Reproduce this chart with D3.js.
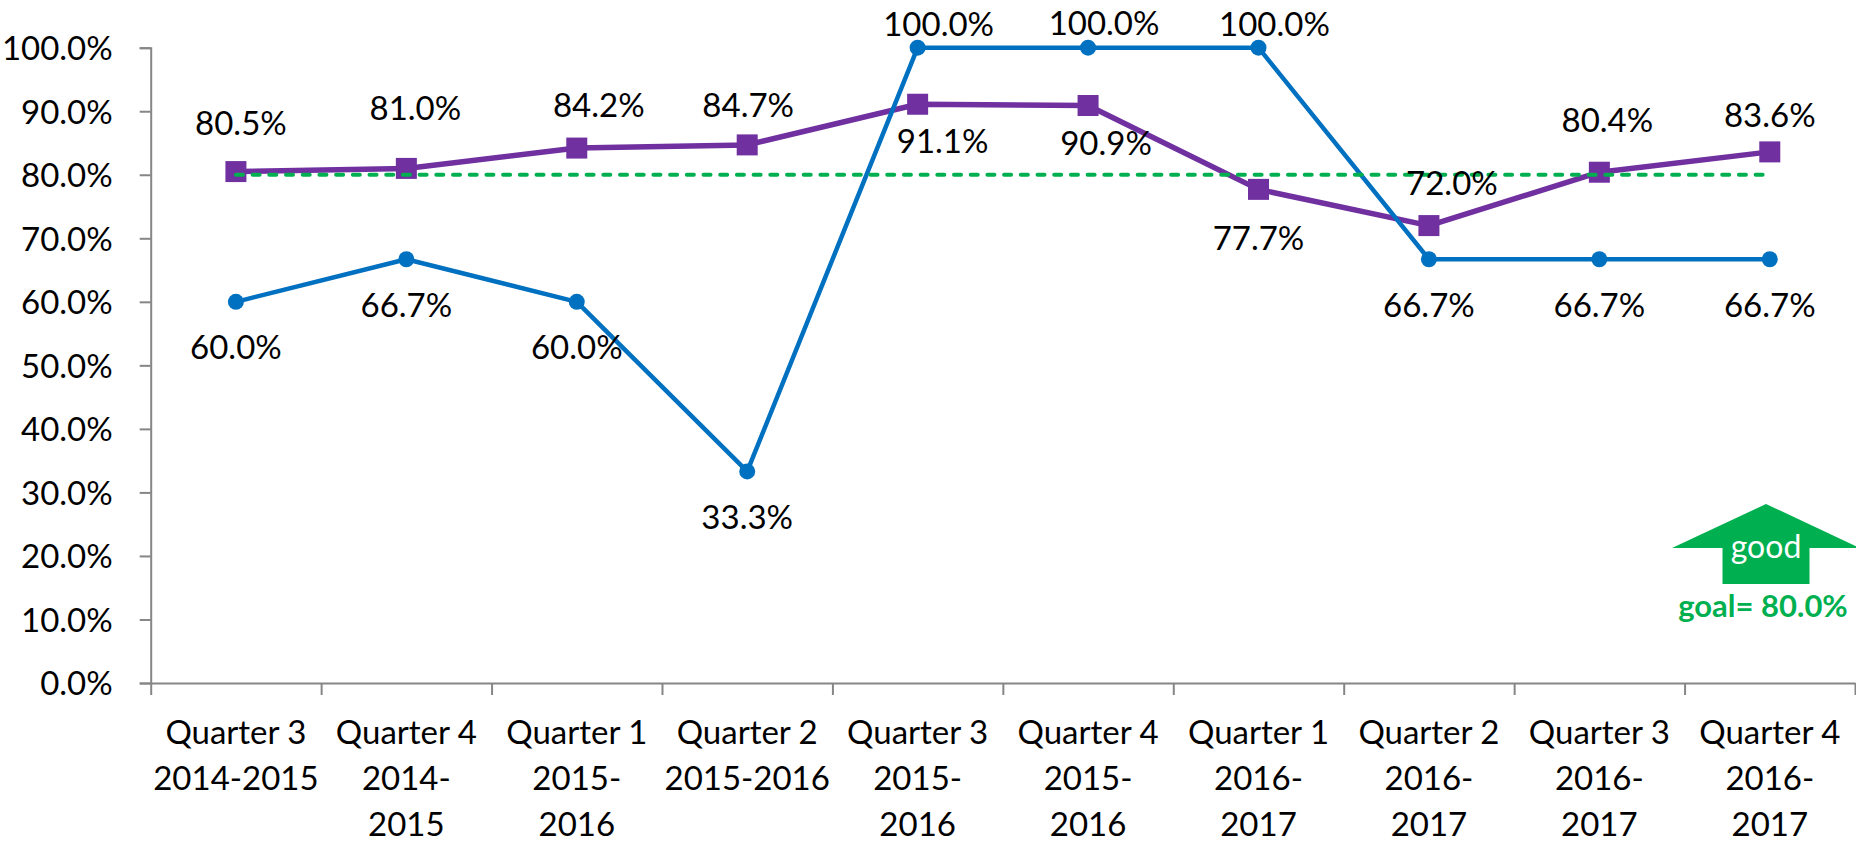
<!DOCTYPE html>
<html>
<head>
<meta charset="utf-8">
<script src="https://cdn.jsdelivr.net/npm/d3@7"></script>
<style>
  html, body { margin: 0; padding: 0; background: #ffffff; }
  svg { display: block; }
  text { font-family: Lato, "Open Sans", sans-serif; }
</style>
</head>
<body>
<svg id="chart" width="1856" height="842"></svg>
<script>
// ---------- data ----------
const categories = [
  "Quarter 3\n2014-2015",
  "Quarter 4\n2014-\n2015",
  "Quarter 1\n2015-\n2016",
  "Quarter 2\n2015-2016",
  "Quarter 3\n2015-\n2016",
  "Quarter 4\n2015-\n2016",
  "Quarter 1\n2016-\n2017",
  "Quarter 2\n2016-\n2017",
  "Quarter 3\n2016-\n2017",
  "Quarter 4\n2016-\n2017"
];
const blueValues   = [0.600, 0.667, 0.600, 0.333, 1.000, 1.000, 1.000, 0.667, 0.667, 0.667];
const purpleValues = [0.805, 0.810, 0.842, 0.847, 0.911, 0.909, 0.777, 0.720, 0.804, 0.836];
const goalValue = 0.80;
const yTickValues = [0, 0.1, 0.2, 0.3, 0.4, 0.5, 0.6, 0.7, 0.8, 0.9, 1.0];
const goalLabel = "goal= 80.0%";
const arrowLabel = "good";

// ---------- label placement (offsets from each point, px) ----------
const purpleLabelDx = [5, 9, 22, 1, 25, 18, 0, 23, 8, 0];
const purpleLabelDy = [-48, -60, -43, -40, 37, 38, 49, -42, -52, -37];
const blueLabelDx   = [0, 0, 0, 0, 21, 16, 16, 0, 0, 0];
const blueLabelDy   = [45, 46, 45, 46, -24, -25, -24, 46, 46, 46];

// ---------- layout ----------
const W = 1856, H = 842;
const plot = { left: 150.7, right: 1855, top: 47.7, bottom: 683 };
const COLORS = { blue: "#0070C0", purple: "#7030A0", green: "#00B050", axis: "#868686", text: "#000000" };
const FONT = 33;
const CAP = 0.72 * FONT; // approx cap height for vertical centring

const svg = d3.select("#chart");

const x = d3.scaleBand().domain(categories).range([plot.left, plot.right]).paddingInner(0).paddingOuter(0);
const xc = d => x(d) + x.bandwidth() / 2;
const y = d3.scaleLinear().domain([0, 1]).range([plot.bottom, plot.top]);
const xEdge = d3.scaleLinear().domain([0, categories.length]).range([plot.left, plot.right]);

// ---------- axes ----------
const yAxis = d3.axisLeft(y)
  .tickValues(yTickValues)
  .tickFormat(d3.format(".1%"))
  .tickSize(11)
  .tickPadding(27);
const gy = svg.append("g").attr("transform", `translate(${plot.left},0)`).call(yAxis);
gy.select(".domain").attr("stroke", COLORS.axis).attr("stroke-width", 2);
gy.selectAll(".tick line").attr("stroke", COLORS.axis).attr("stroke-width", 2);
gy.selectAll(".tick text")
  .attr("font-size", FONT).attr("fill", COLORS.text)
  .attr("dy", null).attr("y", CAP / 2)
  .style("font-family", "Lato");

// x axis: tick marks at category boundaries
const xTickAxis = d3.axisBottom(xEdge)
  .tickValues(d3.range(0, categories.length + 1))
  .tickFormat("")
  .tickSize(12)
  .tickSizeOuter(0);
const gx = svg.append("g").attr("transform", `translate(0,${plot.bottom})`).call(xTickAxis);
gx.select(".domain").attr("stroke", COLORS.axis).attr("stroke-width", 2);
gx.selectAll(".tick line").attr("stroke", COLORS.axis).attr("stroke-width", 2);

// x category labels (multi-line), via band-scale axis
const xLabelAxis = d3.axisBottom(x).tickSize(0).tickFormat("");
const gxl = svg.append("g").attr("transform", `translate(0,${plot.bottom})`).call(xLabelAxis);
gxl.select(".domain").remove();
gxl.selectAll(".tick").each(function(d) {
  const t = d3.select(this).append("text")
    .attr("text-anchor", "middle")
    .attr("font-size", FONT)
    .attr("fill", COLORS.text)
    .style("font-family", "Lato");
  d.split("\n").forEach((line, i) => {
    t.append("tspan").attr("x", 0).attr("y", 61 + i * 46).text(line);
  });
});

// ---------- series ----------
const line = d3.line().x((d, i) => xc(categories[i])).y(d => y(d));

svg.append("path")
  .datum(purpleValues)
  .attr("d", line)
  .attr("fill", "none")
  .attr("stroke", COLORS.purple)
  .attr("stroke-width", 5.5)
  .attr("stroke-linejoin", "round");

const SQ = 21;
svg.append("g").selectAll("rect")
  .data(purpleValues)
  .join("rect")
  .attr("x", (d, i) => xc(categories[i]) - SQ / 2)
  .attr("y", d => y(d) - SQ / 2)
  .attr("width", SQ).attr("height", SQ)
  .attr("fill", COLORS.purple);

svg.append("path")
  .datum(blueValues)
  .attr("d", line)
  .attr("fill", "none")
  .attr("stroke", COLORS.blue)
  .attr("stroke-width", 4.5)
  .attr("stroke-linejoin", "round");

svg.append("g").selectAll("circle")
  .data(blueValues)
  .join("circle")
  .attr("cx", (d, i) => xc(categories[i]))
  .attr("cy", d => y(d))
  .attr("r", 8)
  .attr("fill", COLORS.blue);

// goal line (dashed)
const goalData = categories.map(() => goalValue);
svg.append("path")
  .datum(goalData)
  .attr("d", line)
  .attr("fill", "none")
  .attr("stroke", COLORS.green)
  .attr("stroke-width", 4)
  .attr("stroke-linecap", "round")
  .attr("stroke-dasharray", "7,9.7");

// ---------- data labels ----------
const fmt = d3.format(".1%");
function addLabels(values, dxs, dys) {
  svg.append("g").selectAll("text")
    .data(values)
    .join("text")
    .attr("x", (d, i) => xc(categories[i]) + dxs[i])
    .attr("y", (d, i) => y(d) + dys[i] + CAP / 2)
    .attr("text-anchor", "middle")
    .attr("font-size", FONT)
    .attr("fill", COLORS.text)
    .text(d => fmt(d));
}
addLabels(purpleValues, purpleLabelDx, purpleLabelDy);
addLabels(blueValues, blueLabelDx, blueLabelDy);

// ---------- "good" arrow annotation ----------
const arrow = { tipX: 1766, tipY: 504, headY: 548, wing: 94, shaft: 43.5, bottom: 584 };
const ag = svg.append("g");
ag.append("path")
  .attr("d", [
    "M", arrow.tipX, arrow.tipY,
    "L", arrow.tipX + arrow.wing, arrow.headY,
    "L", arrow.tipX + arrow.shaft, arrow.headY,
    "L", arrow.tipX + arrow.shaft, arrow.bottom,
    "L", arrow.tipX - arrow.shaft, arrow.bottom,
    "L", arrow.tipX - arrow.shaft, arrow.headY,
    "L", arrow.tipX - arrow.wing, arrow.headY,
    "Z"
  ].join(" "))
  .attr("fill", COLORS.green);
ag.append("text")
  .attr("x", arrow.tipX).attr("y", 558)
  .attr("text-anchor", "middle")
  .attr("font-size", 32)
  .attr("fill", "#ffffff")
  .text(arrowLabel);
ag.append("text")
  .attr("x", 1763).attr("y", 617)
  .attr("text-anchor", "middle")
  .attr("font-size", 31)
  .attr("font-weight", "bold")
  .attr("fill", COLORS.green)
  .text(goalLabel);
</script>
</body>
</html>
